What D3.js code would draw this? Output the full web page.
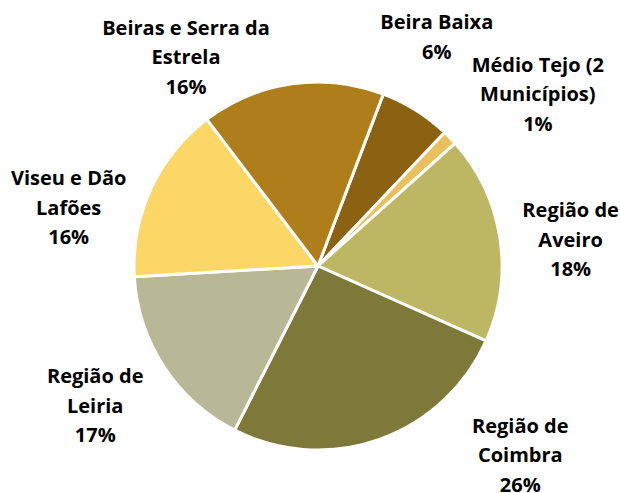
<!DOCTYPE html>
<html>
<head>
<meta charset="utf-8">
<script src="https://cdn.jsdelivr.net/npm/d3@7"></script>
<style>
  body { margin: 0; background: #fff; }
  text { font-family: "Open Sans", Lato, sans-serif; font-weight: 700; fill: #000; }
</style>
</head>
<body>
<div id="chart"></div>
<script>
// slices, clockwise from the first one
const regions = [
    ['Beira Baixa'],
    ['Médio Tejo (2', 'Municípios)'],
    ['Região de', 'Aveiro'],
    ['Região de', 'Coimbra'],
    ['Região de', 'Leiria'],
    ['Viseu e Dão', 'Lafões'],
    ['Beiras e Serra da', 'Estrela']
];
const shares = [6.3, 1.3, 18.3, 25.8, 16.6, 15.6, 16.1];
const colors = ['#8a6212', '#eabf5e', '#bdb662', '#7e7939', '#b8b796', '#fdd766', '#ae7e1a'];

// where excel put each label: angle (deg) and distance from the centre
const labelAngle = [27.4, 52, 84.1, 133.1, 237.9, 283.1, 327.7];
const labelDist = [258, 279, 254, 277, 263, 256, 247];

const width = 620;
const height = 493;
const cx = 318, cy = 266, radius = 184;
const lineH = 29.5;

const svg = d3.select('#chart')
    .append('svg')
    .attr('width', width)
    .attr('height', height);

const g = svg.append('g')
    .attr('transform', `translate(${cx},${cy})`);

const rad = d => d * Math.PI / 180;
const start = rad(20.8);

const pie = d3.pie()
    .sort(null)
    .startAngle(start)
    .endAngle(start + 2 * Math.PI);

const arcs = pie(shares);

const arc = d3.arc()
    .innerRadius(0)
    .outerRadius(radius);

g.selectAll('path')
    .data(arcs)
    .enter()
    .append('path')
    .attr('d', arc)
    .attr('fill', (d, i) => colors[i])
    .attr('stroke', '#fff')
    .attr('stroke-width', 3)
    .attr('stroke-linejoin', 'round');

const total = d3.sum(shares);

g.selectAll('text.label')
    .data(arcs)
    .enter()
    .append('text')
    .attr('class', 'label')
    .attr('text-anchor', 'middle')
    .attr('font-size', 20)
    .each(function (d, i) {
        const a = rad(labelAngle[i]);
        const p = d3.arc().innerRadius(labelDist[i]).outerRadius(labelDist[i])
            .startAngle(a).endAngle(a).centroid();
        const lines = regions[i].concat([Math.round(d.data / total * 100) + '%']);
        const top = p[1] - (lines.length - 1) * lineH / 2 + 7;
        d3.select(this).selectAll('tspan')
            .data(lines)
            .enter()
            .append('tspan')
            .attr('x', p[0])
            .attr('y', (t, j) => top + j * lineH)
            .text(t => t);
    });
</script>
</body>
</html>
